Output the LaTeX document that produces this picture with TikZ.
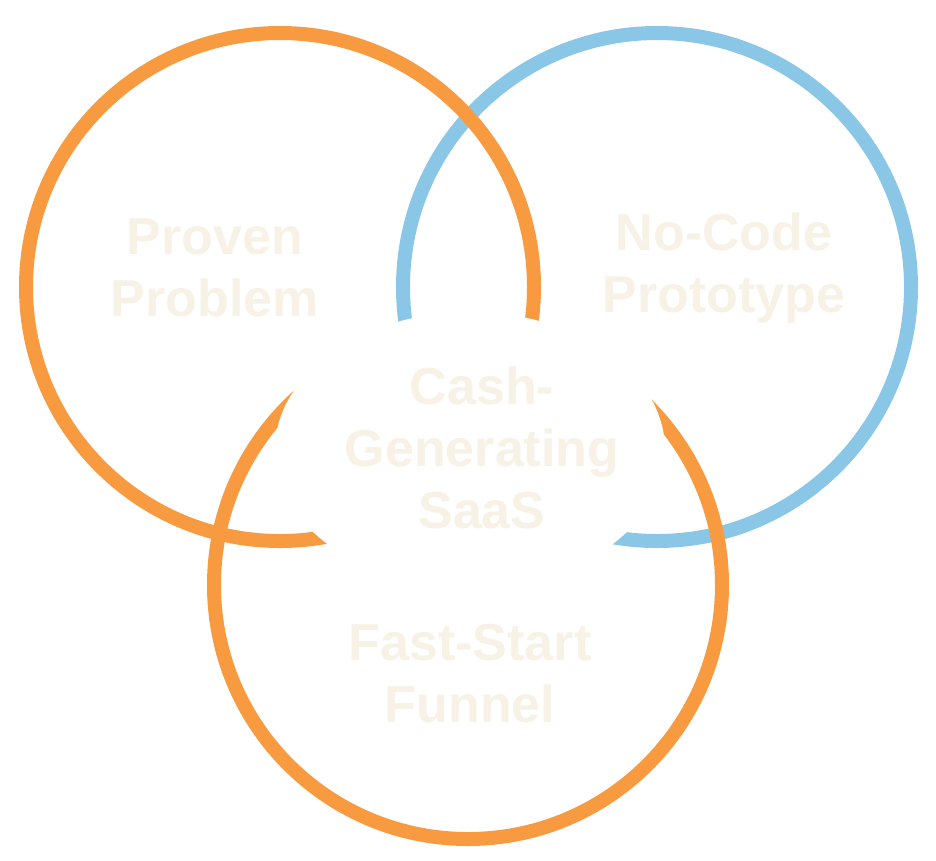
\documentclass[tikz,border=0pt]{standalone}
\usepackage{fontspec}
\setmainfont{Liberation Sans}
\usepackage{tikz}
\usetikzlibrary{shapes.geometric}
\definecolor{ringorange}{HTML}{F79A40}
\definecolor{ringblue}{HTML}{8AC6E6}
\definecolor{labelcream}{HTML}{F7F1E6}
\tikzset{
  ring/.style={circle, draw=#1, line width=14pt, minimum size=508pt, inner sep=0pt},
  label/.style={text=labelcream, font=\bfseries\fontsize{52}{62}\selectfont, align=center}
}
\begin{document}
\begin{tikzpicture}[x=1pt,y=-1pt]
        \useasboundingbox (0,0) rectangle (936,860);

        \node[ring=ringblue]   (prototype) at (657,287) {};
        \node[ring=ringorange] (problem)   at (280,287) {};
        \node[ring=ringorange] (funnel)    at (468,585) {};

        \node[ellipse, fill=white, minimum width=390pt, minimum height=276pt] (core) at (470,450) {};

        \node[label] (problemtxt)   at (215,268) {Proven\\Problem};
        \node[label] (prototypetxt) at (724,268) {No-Code\\Prototype};
        \node[label] (coretxt)      at (482,448) {Cash-\\Generating\\SaaS};
        \node[label] (funneltxt)    at (470,674) {Fast-Start\\Funnel};
    \end{tikzpicture}
\end{document}
